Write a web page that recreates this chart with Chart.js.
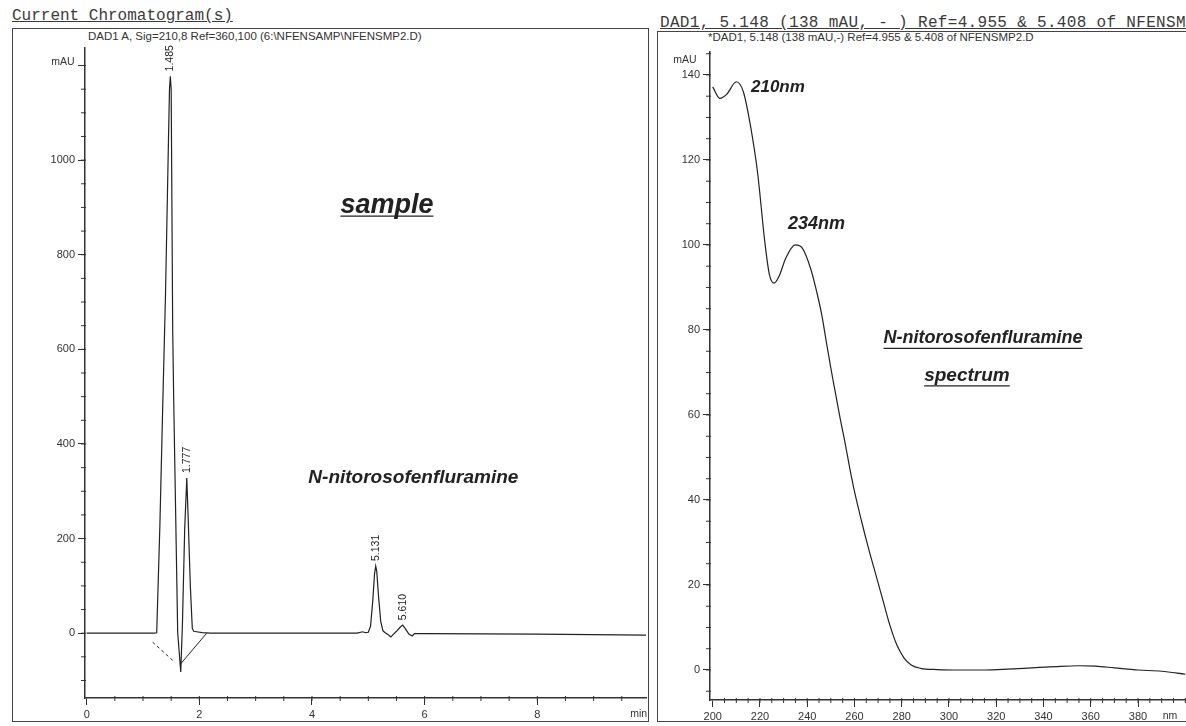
<!DOCTYPE html>
<html><head><meta charset="utf-8">
<script src="https://cdn.jsdelivr.net/npm/chart.js@4"></script>
<style>
html,body{margin:0;padding:0;background:#fff;width:1186px;height:726px;overflow:hidden;}
.abs{position:absolute;}
.hdr{font-family:"Liberation Mono",monospace;font-size:16px;color:#3a3a3a;text-decoration:underline;white-space:nowrap;line-height:16px;}
.sub{font-family:"Liberation Sans",Arial,sans-serif;font-size:11.5px;color:#333;white-space:nowrap;line-height:12px;}
.box{border:1.5px solid #444;box-sizing:border-box;}
</style></head><body>
<div class="abs hdr" style="left:12px;top:8px;">Current Chromatogram(s)</div>
<div class="abs hdr" style="left:660px;top:15px;letter-spacing:0.32px;">DAD1, 5.148 (138 mAU, - ) Ref=4.955 &amp; 5.408 of NFENSMP2.D</div>
<div class="abs box" style="left:12px;top:28px;width:637px;height:694px;"></div>
<div class="abs box" style="left:657px;top:31px;width:540px;height:691px;"></div>
<div class="abs sub" style="left:88px;top:30px;">DAD1 A, Sig=210,8 Ref=360,100 (6:\NFENSAMP\NFENSMP2.D)</div>
<div class="abs sub" style="left:708px;top:31px;">*DAD1, 5.148 (138 mAU,-) Ref=4.955 &amp; 5.408 of NFENSMP2.D</div>
<canvas id="c1" class="abs" width="650" height="726" style="left:0;top:0;"></canvas>
<canvas id="c2" class="abs" width="536" height="726" style="left:650px;top:0;"></canvas>
<script>
// ---------- Chromatogram data (time in min, signal in mAU) ----------
const chromTime   = [0, 1.20, 1.243, 1.30, 1.35, 1.40, 1.45, 1.47, 1.485, 1.50, 1.527, 1.545, 1.58, 1.616, 1.67, 1.70, 1.74, 1.777, 1.80, 1.84, 1.875, 1.90, 1.95, 2.05, 2.20, 4.80, 4.90, 4.95, 5.00, 5.04, 5.08, 5.11, 5.131, 5.15, 5.18, 5.22, 5.26, 5.30, 5.36, 5.40, 5.44, 5.50, 5.56, 5.61, 5.66, 5.72, 5.78, 5.82, 6.00, 8.00, 9.93];
const chromSignal = [0, 0,    1,     230,  480,  720,  1030, 1150, 1177,  1150, 641,   493,   250,  0,     -82,  20,   220,  328,   250,  100,  10,    4,    3,    1,    0,    0,    3,    1,    2,    15,   70,   125,  142,   130,  80,   25,   5,    1,    -4,   -8,   -3,   4,    12,   17,   9,    -2,   -6,   -1,   -1,   -2,   -4];
const baseline1Time = [1.17, 1.57];
const baseline1Signal = [-19, -62];
const baseline2Time = [1.66, 2.13];
const baseline2Signal = [-66, 0];
const peakTimes   = [1.485, 1.777, 5.131, 5.610];
const peakHeights = [1177, 328, 142, 17];
const peakLabels  = ['1.485', '1.777', '5.131', '5.610'];
const chromXTicks = [0, 2, 4, 6, 8];
const chromYTicks = [0, 200, 400, 600, 800, 1000, 1200];
const chromYLabels = ['0', '200', '400', '600', '800', '1000', ''];

// ---------- UV spectrum data (wavelength in nm, absorbance in mAU) ----------
const specWavelength = [200, 203, 206, 210, 213, 216, 219, 222, 224, 226, 228, 231, 235, 238, 241.7, 244, 246, 248, 250, 252, 254, 256, 258, 260, 263, 266, 269, 272, 275, 278, 281, 284, 288, 295, 305, 315, 325, 335, 345, 355, 362, 370, 380, 390, 400];
const specAbsorbance = [137.2, 134.5, 135.5, 138.4, 136, 128, 117, 101, 93, 91, 92.5, 97, 100, 99.2, 94, 89, 84, 77.5, 71, 65, 59, 53.5, 47.5, 42, 35, 28.5, 22.5, 16.5, 10.5, 5.8, 2.8, 1.2, 0.4, 0.1, 0, 0, 0.2, 0.5, 0.8, 1, 0.9, 0.5, 0, -0.3, -1];
const specXTicks = [200, 220, 240, 260, 280, 300, 320, 340, 360, 380];
const specYTicks = [0, 20, 40, 60, 80, 100, 120, 140];

const INK = '#222';
const AXIS = '#333';
const tickFont = {family: '"Liberation Sans", Arial, sans-serif', size: 11};

function xy(xs, ys) { return xs.map((x, i) => ({x: x, y: ys[i]})); }

function drawMinor(chart, xs, ys) {
  const ctx = chart.ctx, a = chart.chartArea;
  const sx = chart.scales.x, sy = chart.scales.y;
  ctx.save();
  ctx.strokeStyle = AXIS; ctx.lineWidth = 1;
  ctx.beginPath();
  for (let v = xs.from; v <= xs.to + 1e-9; v += xs.step) {
    const p = sx.getPixelForValue(v);
    if (p < a.left || p > a.right) continue;
    ctx.moveTo(p, a.bottom - 2); ctx.lineTo(p, a.bottom + 3);
  }
  for (let v = ys.from; v <= ys.to + 1e-9; v += ys.step) {
    const p = sy.getPixelForValue(v);
    if (p < a.top || p > a.bottom) continue;
    ctx.moveTo(a.left - 4, p); ctx.lineTo(a.left + 1, p);
  }
  ctx.stroke();
  ctx.restore();
}

function drawText(ctx, txt, x, y, font, opts) {
  opts = opts || {};
  ctx.save();
  ctx.font = font;
  ctx.fillStyle = opts.color || INK;
  ctx.textAlign = opts.align || 'center';
  ctx.textBaseline = opts.baseline || 'middle';
  ctx.fillText(txt, x, y);
  if (opts.underline) {
    const w = ctx.measureText(txt).width;
    const x0 = (opts.align === 'left') ? x : x - w / 2;
    ctx.strokeStyle = ctx.fillStyle; ctx.lineWidth = 1.3;
    ctx.beginPath(); ctx.moveTo(x0, y + opts.underline); ctx.lineTo(x0 + w, y + opts.underline); ctx.stroke();
  }
  ctx.restore();
}

const chromDecor = {
  id: 'chromDecor',
  afterDraw(chart) {
    const ctx = chart.ctx, a = chart.chartArea;
    const sx = chart.scales.x, sy = chart.scales.y;
    drawMinor(chart, {from: 0.5, to: 9.5, step: 0.5}, {from: -100, to: 1200, step: 50});
    // peak retention-time labels (rotated)
    ctx.save();
    ctx.font = '10.5px "Liberation Sans", Arial, sans-serif';
    ctx.fillStyle = INK;
    peakTimes.forEach((t, i) => {
      const px = sx.getPixelForValue(t);
      const py = sy.getPixelForValue(peakHeights[i]) - 5;
      ctx.save(); ctx.translate(px, py); ctx.rotate(-Math.PI / 2);
      ctx.textAlign = 'left'; ctx.textBaseline = 'middle';
      ctx.fillText(peakLabels[i], 0, 0);
      ctx.restore();
    });
    ctx.restore();
    drawText(ctx, 'mAU', a.left - 22, sy.getPixelForValue(1200) - 3, '10.5px "Liberation Sans", Arial, sans-serif', {color: AXIS});
    drawText(ctx, 'min', sx.getPixelForValue(9.8), a.bottom + 16, '10.5px "Liberation Sans", Arial, sans-serif', {color: AXIS});
    drawText(ctx, 'sample', sx.getPixelForValue(5.33), sy.getPixelForValue(905), 'italic bold 27px "Liberation Sans", Arial, sans-serif', {underline: 11});
    drawText(ctx, 'N-nitorosofenfluramine', sx.getPixelForValue(5.80), sy.getPixelForValue(328), 'italic bold 19px "Liberation Sans", Arial, sans-serif');
  }
};

const specDecor = {
  id: 'specDecor',
  afterDraw(chart) {
    const ctx = chart.ctx, a = chart.chartArea;
    const sx = chart.scales.x, sy = chart.scales.y;
    drawMinor(chart, {from: 205, to: 400, step: 5}, {from: -5, to: 145, step: 5});
    drawText(ctx, 'mAU', a.left - 25, sy.getPixelForValue(143.5), '10.5px "Liberation Sans", Arial, sans-serif', {color: AXIS});
    drawText(ctx, 'nm', a.right - 16, a.bottom + 16, '10.5px "Liberation Sans", Arial, sans-serif', {color: AXIS});
    const f = 'italic bold 18px "Liberation Sans", Arial, sans-serif';
    drawText(ctx, '210nm', sx.getPixelForValue(227.6), sy.getPixelForValue(137), 'italic bold 17px "Liberation Sans", Arial, sans-serif');
    drawText(ctx, '234nm', sx.getPixelForValue(243.9), sy.getPixelForValue(105), f);
    drawText(ctx, 'N-nitorosofenfluramine', sx.getPixelForValue(314.4), sy.getPixelForValue(78), f, {underline: 10});
    drawText(ctx, 'spectrum', sx.getPixelForValue(307.6), sy.getPixelForValue(69.2), 'italic bold 19px "Liberation Sans", Arial, sans-serif', {underline: 10});
  }
};

function axisCommon(ticksArr, labels, extra) {
  return Object.assign({
    type: 'linear',
    afterBuildTicks: s => { s.ticks = ticksArr.map(v => ({value: v})); },
    ticks: {
      font: tickFont, color: AXIS, padding: 3, maxRotation: 0, autoSkip: false,
      callback: v => labels ? labels[ticksArr.indexOf(v)] : String(v)
    },
    grid: {drawOnChartArea: false, drawTicks: true, tickLength: 7, color: AXIS, tickWidth: 1},
    border: {display: true, color: AXIS, width: 1.5}
  }, extra);
}

new Chart(document.getElementById('c1'), {
  type: 'line',
  data: {
    datasets: [
      {data: xy(chromTime, chromSignal), borderColor: INK, borderWidth: 1.2, pointRadius: 0, tension: 0, fill: false},
      {data: xy(baseline1Time, baseline1Signal), borderColor: INK, borderWidth: 1, borderDash: [3, 3], pointRadius: 0, fill: false},
      {data: xy(baseline2Time, baseline2Signal), borderColor: INK, borderWidth: 1, pointRadius: 0, fill: false}
    ]
  },
  options: {
    responsive: false, animation: false, events: [],
    layout: {padding: {left: 0, top: 48, right: 4, bottom: 0}},
    plugins: {legend: {display: false}, tooltip: {enabled: false}},
    scales: {
      x: axisCommon(chromXTicks, null, {position: 'bottom', min: -0.03, max: 9.93, afterFit: s => { s.height = 28; }}),
      y: axisCommon(chromYTicks, chromYLabels, {position: 'left', min: -137, max: 1237, afterFit: s => { s.width = 85; }})
    }
  },
  plugins: [chromDecor]
});

new Chart(document.getElementById('c2'), {
  type: 'line',
  data: {
    datasets: [
      {data: xy(specWavelength, specAbsorbance), borderColor: INK, borderWidth: 1.2, pointRadius: 0, cubicInterpolationMode: 'monotone', fill: false}
    ]
  },
  options: {
    responsive: false, animation: false, events: [],
    layout: {padding: {left: 0, top: 52, right: 0, bottom: 0}},
    plugins: {legend: {display: false}, tooltip: {enabled: false}},
    scales: {
      x: axisCommon(specXTicks, null, {position: 'bottom', min: 198.86, max: 400.3, afterFit: s => { s.height = 26; }}),
      y: axisCommon(specYTicks, null, {position: 'left', min: -7.06, max: 145.4, afterFit: s => { s.width = 60; }})
    }
  },
  plugins: [specDecor]
});
</script>
</body></html>
